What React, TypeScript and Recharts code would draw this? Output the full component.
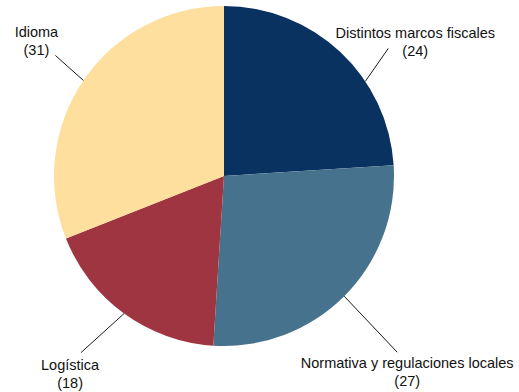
import React from 'react';
import { PieChart, Pie, Cell } from 'recharts';

// Barreras percibidas (valores en %)
const categories = ['Distintos marcos fiscales', 'Normativa y regulaciones locales', 'Logística', 'Idioma'];
const values = [24, 27, 18, 31];
const colors = ['#0A3261', '#47728D', '#A03542', '#FEDF9E'];

// Leader line / label placement per slice: angle shift on the rim, line vector, text offset from line end
const labelLayout = [
  { shift: -13, lx: 23, ly: -33, tx: 27, ty: -10 },
  { shift: 0, lx: 53, ly: 56, tx: 10, ty: 16 },
  { shift: 0, lx: -43, ly: 39, tx: -11, ty: 17 },
  { shift: 0, lx: -28, ly: -25, tx: -19, ty: -18 },
];

const data = categories.map((name, i) => ({ name, value: values[i] }));

const RAD = Math.PI / 180;

const renderLabel = (props: any) => {
  const { cx, cy, midAngle, outerRadius, index } = props;
  const lay = labelLayout[index];
  const a = (midAngle + lay.shift) * RAD;
  const x0 = cx + Math.cos(-a) * outerRadius;
  const y0 = cy + Math.sin(-a) * outerRadius;
  const x1 = x0 + lay.lx;
  const y1 = y0 + lay.ly;
  const tx = x1 + lay.tx;
  const ty = y1 + lay.ty;
  return (
    <g>
      <line x1={x0} y1={y0} x2={x1} y2={y1} stroke="#1a1a1a" strokeWidth={1} />
      <text x={tx} y={ty} textAnchor="middle" fill="#111" fontSize={14.5} fontFamily="'Liberation Sans', Arial, sans-serif">
        <tspan x={tx} dy={0}>{data[index].name}</tspan>
        <tspan x={tx} dy={18}>({data[index].value})</tspan>
      </text>
    </g>
  );
};

export default function App() {
  return (
    <div style={{ position: 'fixed', left: 0, top: 0, width: 519, height: 392, background: '#fff' }}>
      <PieChart width={519} height={392} margin={{ top: 0, right: 0, bottom: 0, left: 0 }}>
        <Pie
          data={data}
          dataKey="value"
          nameKey="name"
          cx={224}
          cy={176}
          outerRadius={170}
          startAngle={90}
          endAngle={-270}
          stroke="none"
          label={renderLabel}
          labelLine={false}
          isAnimationActive={false}
        >
          {data.map((d, i) => (
            <Cell key={`cell-${i}`} fill={colors[i]} />
          ))}
        </Pie>
      </PieChart>
    </div>
  );
}
